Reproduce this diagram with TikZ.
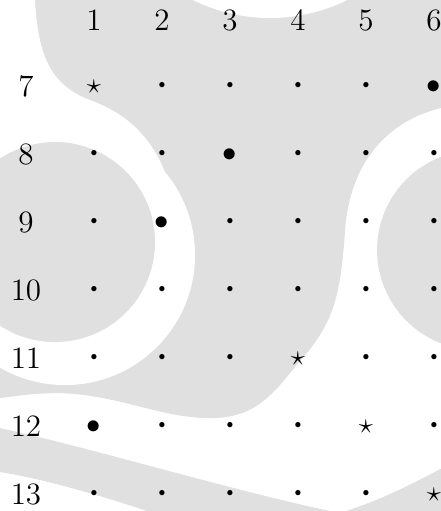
\documentclass[tikz,border=0pt]{standalone}
\usepackage{amsmath}
\usepackage{tikz}
\usetikzlibrary{backgrounds}

\definecolor{wmgray}{RGB}{224,224,224}

\begin{document}
\begin{tikzpicture}[
    every node/.style={font=\fontsize{13}{15}\selectfont, inner sep=0pt},
    lbl/.style={anchor=center},
    cell/.style={anchor=mid, yshift=-1pt},
    sdot/.style={anchor=mid, font=\fontsize{20}{24}\selectfont, yshift=-2.8pt},
    wm/.style={fill=wmgray, draw=none},
    wmcut/.style={fill=white, draw=none}
]
\useasboundingbox (-0.382,-5.735) rectangle (6.103,-13.25);

% watermark behind the grid, in pixel units from the top left corner
\begin{scope}[shift={(-0.382,-5.735)}, x=0.014706cm, y=-0.014706cm]
    \clip (0,0) rectangle (441,511);
    \fill[wm] (0,0) -- (441,0) -- (441,108)
        .. controls (390,120) and (350,160) .. (345,230)
        .. controls (341,290) and (335,320) .. (305,355)
        .. controls (275,390) and (260,418) .. (210,418)
        .. controls (160,418) and (120,395) .. (60,393)
        .. controls (30,393) and (10,397) .. (0,398) -- cycle;
    \fill[wmcut] (65,255) circle (130);
    \fill[wmcut] (0,0) -- (35,0) .. controls (38,55) and (50,85) .. (90,100)
        .. controls (125,113) and (152,135) .. (168,180) -- (65,255) -- (0,255) -- cycle;
    \fill[wmcut] (270,-156) circle (174);
    \fill[wm] (55,242) circle (100);
    \fill[wm] (477,250) circle (100);
    \fill[wm] (0,428) .. controls (100,450) and (230,490) .. (335,512)
        -- (150,512) .. controls (100,495) and (40,478) .. (0,472) -- cycle;
    \fill[wm] (343,512) .. controls (380,500) and (410,485) .. (442,468) -- (442,512) -- cycle;
\end{scope}

% column and row numbers
\node[lbl] (h1) at (1,-6.03) {1};
\node[lbl] (h2) at (2,-6.03) {2};
\node[lbl] (h3) at (3,-6.03) {3};
\node[lbl] (h4) at (4,-6.03) {4};
\node[lbl] (h5) at (5,-6.03) {5};
\node[lbl] (h6) at (6,-6.03) {6};
\node[lbl] (r7) at (0,-7) {7};
\node[lbl] (r8) at (0,-8) {8};
\node[lbl] (r9) at (0,-9) {9};
\node[lbl] (r10) at (0,-10) {10};
\node[lbl] (r11) at (0,-11) {11};
\node[lbl] (r12) at (0,-12) {12};
\node[lbl] (r13) at (0,-13) {13};

% grid entries
\node[cell] (p7-1) at (1,-7) {$\star$};   \node[sdot] (p7-2) at (2,-7) {$\cdot$};
\node[sdot] (p7-3) at (3,-7) {$\cdot$};   \node[sdot] (p7-4) at (4,-7) {$\cdot$};
\node[sdot] (p7-5) at (5,-7) {$\cdot$};   \node[cell] (p7-6) at (6,-7) {$\bullet$};

\node[sdot] (p8-1) at (1,-8) {$\cdot$};   \node[sdot] (p8-2) at (2,-8) {$\cdot$};
\node[cell] (p8-3) at (3,-8) {$\bullet$}; \node[sdot] (p8-4) at (4,-8) {$\cdot$};
\node[sdot] (p8-5) at (5,-8) {$\cdot$};   \node[sdot] (p8-6) at (6,-8) {$\cdot$};

\node[sdot] (p9-1) at (1,-9) {$\cdot$};   \node[cell] (p9-2) at (2,-9) {$\bullet$};
\node[sdot] (p9-3) at (3,-9) {$\cdot$};   \node[sdot] (p9-4) at (4,-9) {$\cdot$};
\node[sdot] (p9-5) at (5,-9) {$\cdot$};   \node[sdot] (p9-6) at (6,-9) {$\cdot$};

\node[sdot] (p10-1) at (1,-10) {$\cdot$}; \node[sdot] (p10-2) at (2,-10) {$\cdot$};
\node[sdot] (p10-3) at (3,-10) {$\cdot$}; \node[sdot] (p10-4) at (4,-10) {$\cdot$};
\node[sdot] (p10-5) at (5,-10) {$\cdot$}; \node[sdot] (p10-6) at (6,-10) {$\cdot$};

\node[sdot] (p11-1) at (1,-11) {$\cdot$}; \node[sdot] (p11-2) at (2,-11) {$\cdot$};
\node[sdot] (p11-3) at (3,-11) {$\cdot$}; \node[cell] (p11-4) at (4,-11) {$\star$};
\node[sdot] (p11-5) at (5,-11) {$\cdot$}; \node[sdot] (p11-6) at (6,-11) {$\cdot$};

\node[cell] (p12-1) at (1,-12) {$\bullet$}; \node[sdot] (p12-2) at (2,-12) {$\cdot$};
\node[sdot] (p12-3) at (3,-12) {$\cdot$};   \node[sdot] (p12-4) at (4,-12) {$\cdot$};
\node[cell] (p12-5) at (5,-12) {$\star$};   \node[sdot] (p12-6) at (6,-12) {$\cdot$};

\node[sdot] (p13-1) at (1,-13) {$\cdot$}; \node[sdot] (p13-2) at (2,-13) {$\cdot$};
\node[sdot] (p13-3) at (3,-13) {$\cdot$}; \node[sdot] (p13-4) at (4,-13) {$\cdot$};
\node[sdot] (p13-5) at (5,-13) {$\cdot$}; \node[cell] (p13-6) at (6,-13) {$\star$};

\end{tikzpicture}
\end{document}
